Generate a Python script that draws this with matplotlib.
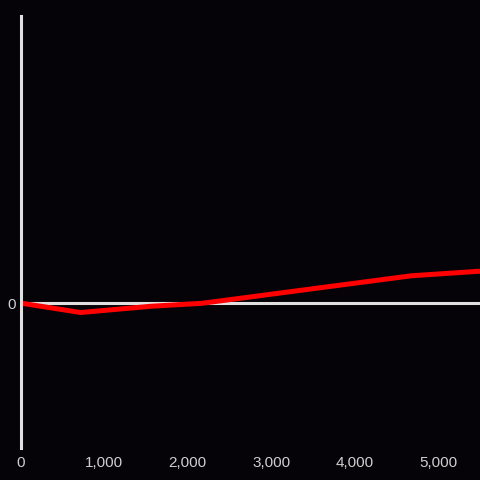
import matplotlib.pyplot as plt

# series
x_vals = [0, 720, 1570, 2170, 4680, 5500]
y_vals = [0.0, -0.033, -0.011, -0.001, 0.095, 0.111]
x_ticks = [0, 1000, 2000, 3000, 4000, 5000]
x_labels = ['0', '1,000', '2,000', '3,000', '4,000', '5,000']

bg = '#050307'
axis_col = '#e0e0e0'
text_col = '#cfcfcf'

plt.rcParams['font.family'] = ['Liberation Sans', 'DejaVu Sans']

fig = plt.figure(figsize=(4.8, 4.8), dpi=100, facecolor=bg)
ax = fig.add_axes([20.5 / 480, 32 / 480, 459.5 / 480, 432 / 480])
ax.set_facecolor(bg)

ax.axhline(0, color=axis_col, lw=2.2, zorder=1)
ax.plot(x_vals, y_vals, color='#ff0000', lw=3.6, solid_capstyle='butt',
        solid_joinstyle='miter', zorder=2, clip_on=False)

ax.set_xlim(0, 5500)
ax.set_ylim(-0.505, 1.0)

for side in ['top', 'right', 'bottom']:
    ax.spines[side].set_visible(False)
ax.spines['left'].set_color(axis_col)
ax.spines['left'].set_linewidth(2.2)

ax.set_xticks(x_ticks)
ax.set_xticklabels(x_labels)
ax.set_yticks([0])
ax.set_yticklabels(['0'])
ax.tick_params(axis='both', length=0, colors=text_col, labelsize=11)
ax.tick_params(axis='x', pad=6)
ax.tick_params(axis='y', pad=3)

fig.savefig('out.png', dpi=100, facecolor=bg)
